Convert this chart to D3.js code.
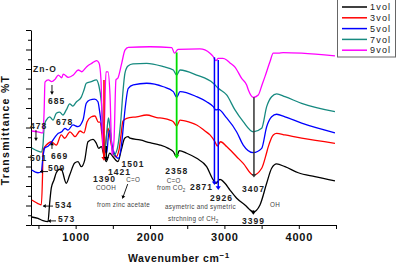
<!DOCTYPE html>
<html>
<head>
<meta charset="utf-8">
<script src="https://cdn.jsdelivr.net/npm/d3@7/dist/d3.min.js"></script>
<style>
  body{margin:0;background:#fff;}
  svg{display:block;font-family:'Liberation Sans',Arial,sans-serif;}
</style>
</head>
<body>
<div id="chart"></div>
<script>
// ---- data: [wavenumber, %T] ----
var seriesNames = ['1vol','3vol','5vol','7vol','9vol'];
var seriesColors = ['#000000','#ff0000','#0000ff','#178a80','#ff00ff'];

var vol1 = [[410,4.1],[494,3.4],[561,2.2],[628,1.7],[651,11.3],[673,19.0],[709,23.1],[740,26.8],[786,28.6],[807,28.6],
  [874,21.4],[920,25.6],[987,31.8],[1032,32.5],[1076,29.9],[1122,33.3],[1166,42.7],[1233,43.9],[1278,41.9],[1310,39.3],
  [1345,40.2],[1381,35.9],[1412,32.5],[1458,36.9],[1502,35.0],[1569,32.5],[1614,38.5],[1659,44.5],[1704,45.3],[1731,44.5],
  [1865,43.6],[2000,42.2],[2134,41.0],[2246,39.3],[2313,37.6],[2358,35.0],[2393,38.1],[2493,36.8],[2627,34.2],[2761,29.9],
  [2850,23.1],[2886,21.4],[2940,23.4],[3007,21.4],[3075,17.9],[3165,13.7],[3276,10.3],[3389,6.8],[3478,10.3],[3568,21.4],
  [3635,29.1],[3702,31.3],[3814,29.9],[3993,26.8],[4217,24.8],[4486,22.6]];

var vol3 = [[410,12.8],[494,11.0],[538,10.3],[555,25.6],[561,37.4],[575,39.5],[606,41.0],[673,42.7],[740,41.0],[807,46.2],
  [853,44.5],[924,47.8],[991,45.3],[1059,48.2],[1112,47.2],[1153,52.8],[1206,55.4],[1260,55.9],[1305,52.8],[1327,52.8],
  [1354,46.2],[1381,34.4],[1408,43.6],[1435,49.7],[1462,44.6],[1502,37.4],[1542,34.9],[1583,38.5],[1610,46.2],[1636,53.3],
  [1686,54.7],[1821,55.5],[1955,56.4],[2090,55.1],[2179,54.7],[2268,53.8],[2313,53.0],[2358,50.8],[2403,53.8],[2537,52.6],
  [2627,51.3],[2739,48.2],[2806,46.2],[2873,42.7],[2904,40.5],[2949,42.7],[3030,40.2],[3165,35.0],[3253,31.6],[3389,25.6],
  [3501,29.1],[3559,35.9],[3590,40.2],[3657,46.2],[3702,47.0],[3814,46.2],[4038,44.5],[4486,41.9]];

var vol5 = [[410,28.2],[494,26.8],[538,27.3],[561,35.0],[584,39.5],[633,40.5],[678,42.6],[723,45.1],[767,47.0],[813,47.8],
  [857,49.6],[897,48.7],[964,51.3],[1032,50.4],[1099,53.8],[1143,62.4],[1189,64.1],[1256,64.6],[1300,63.2],[1323,58.1],
  [1350,50.4],[1381,41.0],[1418,36.9],[1442,46.2],[1462,48.7],[1489,41.0],[1529,35.9],[1574,34.2],[1619,41.9],[1643,51.3],
  [1663,59.0],[1708,70.1],[1775,71.8],[1955,72.7],[2179,70.9],[2313,68.4],[2358,65.5],[2403,68.4],[2627,65.8],[2761,63.2],
  [2850,60.7],[2886,59.0],[2917,59.3],[3030,54.9],[3165,47.7],[3253,41.0],[3389,37.1],[3501,39.3],[3568,50.4],[3635,55.5],
  [3702,56.8],[3814,55.5],[4038,52.2],[4486,47.3]];

var vol7 = [[410,39.5],[494,37.9],[538,37.4],[561,41.0],[579,51.3],[606,53.8],[651,55.5],[696,53.8],[740,57.3],[786,57.9],
  [830,56.4],[874,59.0],[920,62.1],[964,61.0],[1009,63.1],[1076,65.6],[1112,69.2],[1143,72.7],[1210,73.5],[1278,74.4],
  [1310,71.8],[1345,63.2],[1368,49.7],[1395,38.5],[1421,48.7],[1442,54.9],[1462,49.7],[1489,39.5],[1516,35.9],[1556,38.5],
  [1583,44.6],[1610,54.9],[1636,68.2],[1663,77.9],[1704,81.5],[1771,82.6],[1955,82.9],[2179,81.2],[2313,79.5],[2358,76.9],
  [2403,79.5],[2627,76.9],[2850,72.7],[2917,70.1],[3030,66.7],[3142,59.0],[3253,53.0],[3389,47.8],[3501,49.6],[3568,60.7],
  [3635,65.8],[3702,67.2],[3814,65.8],[4038,62.4],[4486,58.1]];

var vol9 = [[410,48.2],[494,47.7],[561,47.2],[577,59.0],[588,73.3],[633,74.4],[678,73.5],[723,74.7],[767,76.9],[813,75.5],
  [834,77.4],[901,75.7],[969,76.9],[1036,79.5],[1081,78.6],[1149,81.2],[1216,82.9],[1283,84.3],[1314,83.1],[1341,74.4],
  [1368,38.5],[1388,53.8],[1408,78.5],[1435,78.5],[1462,66.7],[1489,35.9],[1516,43.6],[1542,74.4],[1569,75.4],[1619,82.9],
  [1663,89.7],[1708,91.1],[2000,91.4],[2291,91.0],[2329,88.1],[2376,90.1],[2671,90.3],[2806,88.1],[2850,86.3],[2886,84.3],
  [2917,85.4],[2980,85.4],[3030,84.6],[3075,83.1],[3142,81.0],[3232,75.2],[3299,71.8],[3322,69.2],[3389,65.5],[3455,66.7],
  [3505,71.8],[3545,76.1],[3612,83.7],[3657,88.1],[3724,88.1],[3791,88.4],[4038,88.1],[4486,86.7]];

var allSeries = [vol1, vol3, vol5, vol7, vol9];

var xTicks = [500,1000,1500,2000,2500,3000,3500,4000,4500];
var xTickLabels = [1000,2000,3000,4000];
var yTicks = d3.range(0, 101, 5);

// peak labels: [text, wavenumber, %T] (text start, baseline)
var peakLabels = [['Zn-O',427,78.5],['685',628,62.3],['478',387,49.0],['678',736,51.3],['501',387,32.8],
  ['669',669,33.8],['509',628,27.7],['534',722,8.5],['573',763,1.3],['1390',1233,21.8],['1421',1435,25.6],
  ['1501',1618,29.8],['2358',2206,26.4],['2871',2537,17.9],['2926',2806,12.3],['3407',3236,16.9],['3399',3236,0.3]];
// small grey notes
var notes = [['COOH',1273,17.9],['C=O',1680,22.0],['from zinc acetate',1287,9.2],['C=O',2224,21.5],
  ['from CO',2093,17.7,'2'],['asymetric and symetric',2201,8.0],['strchning of CH',2241,1.8,'2'],['OH',3612,9.0]];
// marker lines: [wavenumber, %T from, %T to (arrow tip)]
var markers = [[1381,74.4,33.0],[1412,40.5,33.0],[2358,88.5,34.0],[2866,86.0,20.5],[2917,84.6,18.0],[3397,65.5,24.3],[3389,7.5,5.2]];
var markerColors = ['#ff0000','#000000','#00dd00','#0000ff','#0000ff','#333333','#000000'];
// little label arrows: [w1, T1, w2, T2 (tip)]
var labelArrows = [[682,71.8,682,67.0],[467,48.7,467,43.3],[682,39.0,682,42.3],[628,27.4,521,27.4],
  [696,9.7,561,9.7],[736,2.1,628,2.1],[1700,21.0,1630,13.6]];

// ---- chart ----
var width = 397, height = 264;
var svg = d3.select('#chart').append('svg')
  .attr('width', width)
  .attr('height', height);

var x = d3.scaleLinear().domain([400, 4500]).range([31, 336]);
var y = d3.scaleLinear().domain([0, 100]).range([225, 30]);

// axes
var xAxis = d3.axisBottom(x)
  .tickValues(xTicks)
  .tickSize(4)
  .tickSizeOuter(0)
  .tickPadding(4)
  .tickFormat(function(d){ return xTickLabels.indexOf(d) >= 0 ? d : ''; });

var gx = svg.append('g')
  .attr('transform', 'translate(0,' + y(0) + ')')
  .call(xAxis);
gx.selectAll('text')
  .attr('font-size', 11)
  .attr('font-weight', 'bold')
  .attr('letter-spacing', 0.8)
  .attr('fill', '#111');

var yAxis = d3.axisLeft(y)
  .tickValues(yTicks)
  .tickSizeOuter(0)
  .tickFormat('');
var gy = svg.append('g')
  .attr('transform', 'translate(' + x(400) + ',0)')
  .call(yAxis);
gy.selectAll('.tick line')
  .attr('x2', function(d){ return d % 10 === 0 ? -5 : -3; });

svg.selectAll('.domain').attr('stroke', '#000').attr('stroke-width', 1);
svg.selectAll('.tick line').attr('stroke', '#000');

// spectra
var line = d3.line()
  .x(function(d){ return x(d[0]); })
  .y(function(d){ return y(d[1]); })
  .curve(d3.curveMonotoneX);

svg.selectAll('.spectrum')
  .data(allSeries)
  .enter()
  .append('path')
  .attr('class', 'spectrum')
  .attr('d', line)
  .attr('fill', 'none')
  .attr('stroke', function(d, i){ return seriesColors[i]; })
  .attr('stroke-width', 1.3)
  .attr('stroke-linejoin', 'round');

// arrow head helper
function arrowHead(x1, y1, x2, y2, color, size){
  var a = Math.atan2(y2 - y1, x2 - x1);
  var s = size || 3.2;
  var p1 = [x2 - s*1.4*Math.cos(a) + s*Math.sin(a), y2 - s*1.4*Math.sin(a) - s*Math.cos(a)];
  var p2 = [x2 - s*1.4*Math.cos(a) - s*Math.sin(a), y2 - s*1.4*Math.sin(a) + s*Math.cos(a)];
  svg.append('path')
    .attr('d', 'M' + x2 + ',' + y2 + 'L' + p1 + 'L' + p2 + 'Z')
    .attr('fill', color);
}

// marker lines
markers.forEach(function(m, i){
  var c = markerColors[i];
  svg.append('line')
    .attr('x1', x(m[0])).attr('x2', x(m[0]))
    .attr('y1', y(m[1])).attr('y2', y(m[2]) - 3)
    .attr('stroke', c)
    .attr('stroke-width', i === 2 ? 1.8 : 1.5);
  arrowHead(x(m[0]), y(m[1]), x(m[0]), y(m[2]), c, 2.6);
});

// small label arrows
labelArrows.forEach(function(a){
  var x1 = x(a[0]), y1 = y(a[1]), x2 = x(a[2]), y2 = y(a[3]);
  svg.append('line')
    .attr('x1', x1).attr('y1', y1).attr('x2', x2).attr('y2', y2)
    .attr('stroke', '#000')
    .attr('stroke-width', 0.9);
  arrowHead(x1, y1, x2, y2, '#000', 2);
});

// peak labels
svg.selectAll('.peak')
  .data(peakLabels)
  .enter()
  .append('text')
  .attr('class', 'peak')
  .attr('x', function(d){ return x(d[1]); })
  .attr('y', function(d){ return y(d[2]); })
  .attr('font-size', 8.5)
  .attr('font-weight', 'bold')
  .attr('letter-spacing', 1)
  .attr('fill', '#222')
  .text(function(d){ return d[0]; });

// notes
var noteText = svg.selectAll('.note')
  .data(notes)
  .enter()
  .append('text')
  .attr('class', 'note')
  .attr('x', function(d){ return x(d[1]); })
  .attr('y', function(d){ return y(d[2]); })
  .attr('font-size', 6.3)
  .attr('letter-spacing', 0.3)
  .attr('fill', '#444')
  .text(function(d){ return d[0]; });
noteText.filter(function(d){ return d[3]; })
  .append('tspan')
  .attr('dy', 1.5)
  .attr('font-size', 4.5)
  .text(function(d){ return d[3]; });

// axis titles
svg.append('text')
  .attr('x', 128)
  .attr('y', 262)
  .attr('font-size', 10.5)
  .attr('font-weight', 'bold')
  .attr('letter-spacing', 0.6)
  .attr('fill', '#111')
  .text('Wavenumber cm')
  .append('tspan')
  .attr('dy', -4)
  .attr('font-size', 8)
  .text('\u22121');

svg.append('text')
  .attr('transform', 'translate(9,130) rotate(-90)')
  .attr('text-anchor', 'middle')
  .attr('font-size', 10.5)
  .attr('font-weight', 'bold')
  .attr('letter-spacing', 1.3)
  .attr('fill', '#111')
  .text('Transmittance %T');

// legend
var legend = svg.append('g');
legend.append('rect')
  .attr('x', 337.5).attr('y', -1)
  .attr('width', 58).attr('height', 58)
  .attr('fill', '#fff')
  .attr('stroke', '#666');
var items = legend.selectAll('.item')
  .data(seriesNames)
  .enter()
  .append('g')
  .attr('transform', function(d, i){ return 'translate(0,' + (7 + i*10.8) + ')'; });
items.append('line')
  .attr('x1', 342).attr('x2', 367)
  .attr('stroke', function(d, i){ return seriesColors[i]; })
  .attr('stroke-width', 1.5);
items.append('text')
  .attr('x', 370)
  .attr('y', 3.2)
  .attr('font-size', 9)
  .attr('letter-spacing', 1.2)
  .attr('fill', '#222')
  .text(function(d){ return d; });
</script>
</body>
</html>
